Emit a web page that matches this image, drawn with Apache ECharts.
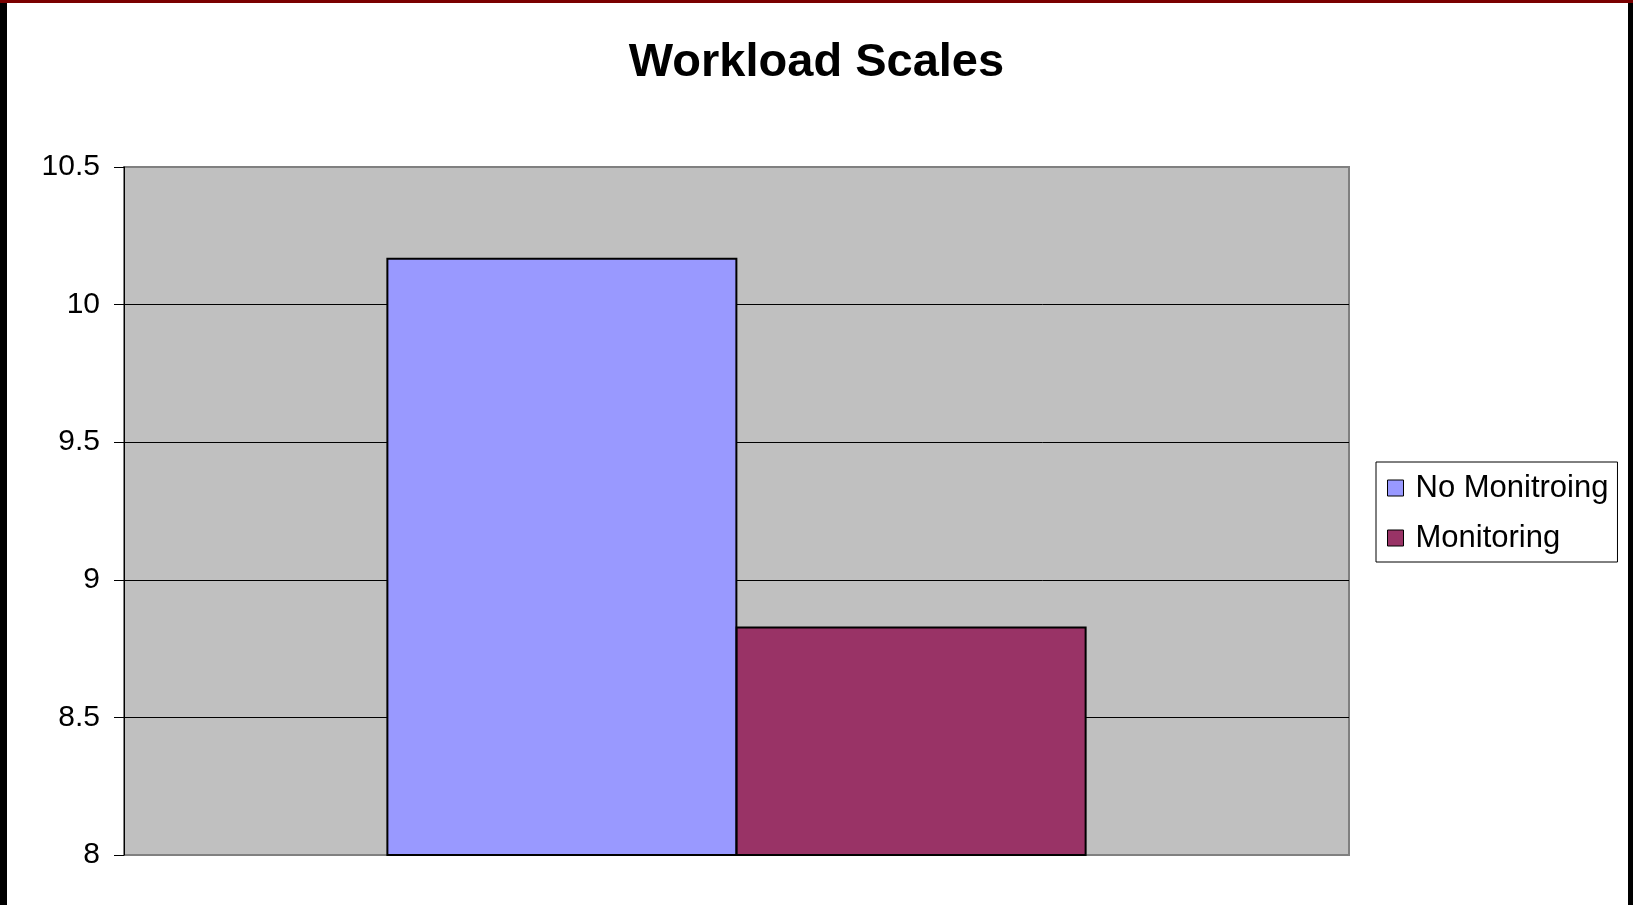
<!DOCTYPE html>
<html>
<head>
<meta charset="utf-8">
<title>Workload Scales</title>
<script src="https://cdn.jsdelivr.net/npm/echarts@6/dist/echarts.min.js"></script>
<style>
    html, body { margin: 0; padding: 0; background: #fff; }
    #chart { position: absolute; left: 0; top: 0; width: 1633px; height: 905px; }
    .edge { position: absolute; }
    #edge-left { left: 0; top: 0; width: 7px; height: 905px; background: #000; }
    #edge-right { right: 0; top: 0; width: 5px; height: 905px; background: #000; }
    #edge-top { left: 0; top: 0; width: 1633px; height: 3px; background: #7a0000; }
</style>
</head>
<body>
<div id="chart"></div>
<div class="edge" id="edge-left"></div>
<div class="edge" id="edge-right"></div>
<div class="edge" id="edge-top"></div>
<script>
// Chart data
const categories = [''];
const seriesNames = ['No Monitroing', 'Monitoring'];
const noMonitoring = [10.17];
const monitoring = [8.83];
const yTicks = { min: 8, max: 10.5, step: 0.5 };

const FONT = "'Liberation Sans', Arial, sans-serif";

const chart = echarts.init(document.getElementById('chart'));

const option = {
    backgroundColor: '#fff',
    animation: false,
    title: {
        text: 'Workload Scales',
        left: 'center',
        top: 35,
        textStyle: {
            fontFamily: FONT,
            fontSize: 47,
            fontWeight: 'bold',
            color: '#000'
        }
    },
    legend: {
        orient: 'vertical',
        left: 1376,
        top: 462,
        data: seriesNames,
        icon: 'rect',
        itemWidth: 16,
        itemHeight: 16,
        itemGap: 16,
        padding: [9, 9, 7, 11],
        backgroundColor: '#fff',
        borderColor: '#000',
        borderWidth: 1,
        borderRadius: 0,
        itemStyle: { borderColor: '#000', borderWidth: 1 },
        textStyle: {
            fontFamily: FONT,
            fontSize: 31,
            lineHeight: 34,
            color: '#000',
            padding: [0, 0, 0, 7]
        }
    },
    grid: {
        left: 124,
        top: 167,
        width: 1225,
        height: 688,
        show: true,
        backgroundColor: '#c0c0c0',
        borderColor: '#808080',
        borderWidth: 2
    },
    xAxis: {
        type: 'category',
        data: categories,
        axisLine: { show: false },
        axisTick: { show: false },
        axisLabel: { show: false }
    },
    yAxis: {
        type: 'value',
        min: yTicks.min,
        max: yTicks.max,
        interval: yTicks.step,
        axisLine: { show: true, lineStyle: { color: '#000', width: 1 } },
        axisTick: { show: true, inside: false, length: 10, lineStyle: { color: '#000' } },
        axisLabel: {
            fontFamily: FONT,
            fontSize: 30,
            color: '#000',
            margin: 24
        },
        splitLine: {
            show: true,
            // bottom and top lines sit on the gray plot frame
            lineStyle: { color: ['#808080', '#000', '#000', '#000', '#000', '#808080'], width: 1 }
        }
    },
    series: [
        {
            name: seriesNames[0],
            type: 'bar',
            data: noMonitoring,
            barWidth: 351,
            barGap: '-0.5%',
            itemStyle: { color: '#9999ff', borderColor: '#000', borderWidth: 2 }
        },
        {
            name: seriesNames[1],
            type: 'bar',
            data: monitoring,
            barWidth: 351,
            barGap: '-0.5%',
            itemStyle: { color: '#993366', borderColor: '#000', borderWidth: 2 }
        }
    ]
};

chart.setOption(option);

window.addEventListener('resize', () => chart.resize());
</script>
</body>
</html>
